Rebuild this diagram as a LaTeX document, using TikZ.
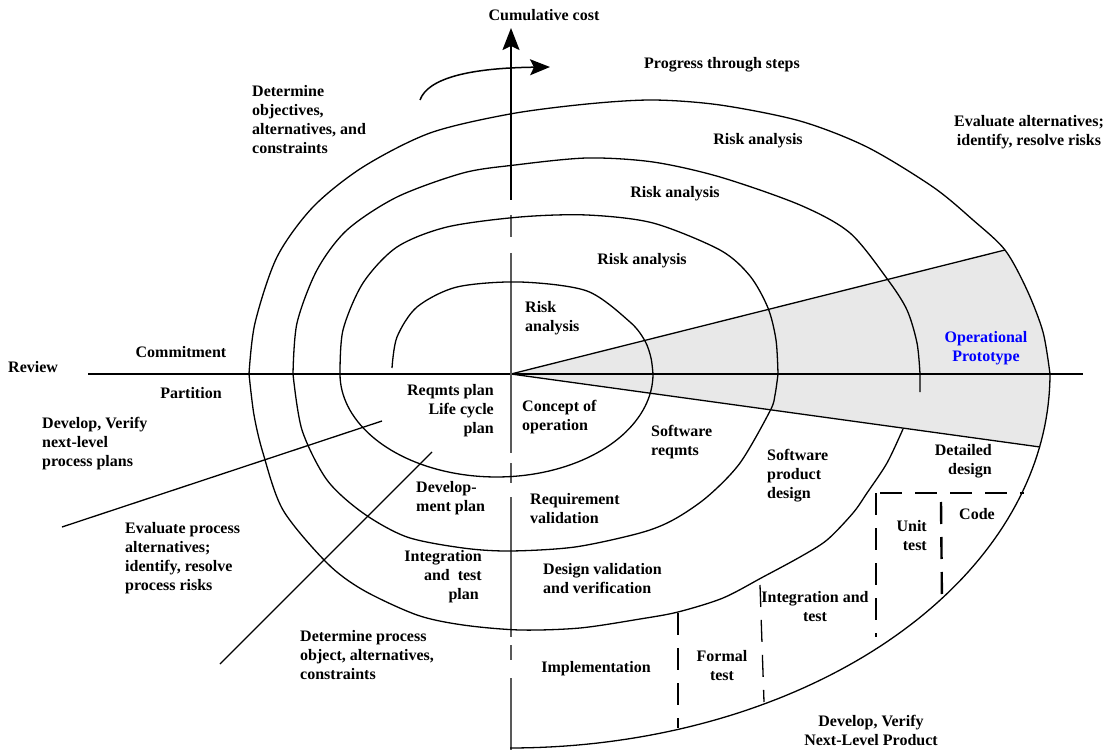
\documentclass[tikz,border=0pt]{standalone}
\usepackage{fontspec}
\setmainfont{Liberation Serif}
\usetikzlibrary{arrows.meta}
\begin{document}
\begin{tikzpicture}[x=1pt,y=-1pt,
  curve/.style={line width=1.3pt, line join=round},
  lbl/.style={font=\fontsize{16}{19}\selectfont\bfseries, inner sep=0pt},
  dsh/.style={line width=1.3pt, dash pattern=on 22pt off 13pt},
  axisgray/.style={line width=2pt, black!65},
  wedgefill/.style={fill=gray!18}
]
\useasboundingbox (0,0) rectangle (1109,754);
% key points
\coordinate (O) at (511,374);
\coordinate (hL) at (88,374);
\coordinate (hR) at (1083,374);
\coordinate (wU) at (1005,250);
\coordinate (wL) at (1040,447);
\coordinate (axT) at (511,28);
\coordinate (axB) at (511,750);
% wedge (operational prototype)
\begin{scope}
\clip (O) -- (1109,223.9) -- (1109,456.5) -- cycle;
\fill[wedgefill] plot[smooth] coordinates {(249,374) (255,323) (277,257) (313,207) (363,167) (430,133) (510,114) (587,104) (653,100) (720,105) (800,121) (867,147) (933,187) (973,220) (1005,250) (1027,290) (1043,332) (1050,374)}
  -- plot[domain=0:90,samples=60] ({510+540*cos(\x)},{374+374*sin(\x)}) -- cycle;
\end{scope}
\draw[curve] (O) -- (wU);
\draw[curve] (O) -- (wL);
% horizontal axis
\draw[line width=1.5pt] (hL) -- (hR);
% vertical axis
\draw[axisgray] (511,215) -- (511,237) (511,253) -- (511,453) (511,463) -- (511,483)
  (511,497) -- (511,637) (511,645) -- (511,660) (511,678) -- (axB);
\draw[line width=2pt, -{Stealth[length=22pt,width=17pt,inset=4pt]}] (511,200) -- (axT);
% spiral - upper arcs
\draw[curve] plot[smooth] coordinates {(249,374) (255,323) (277,257) (313,207) (363,167) (430,133) (510,114) (587,104) (653,100) (720,105) (800,121) (867,147) (933,187) (973,220) (1005,250) (1027,290) (1043,332) (1050,374)};
\draw[curve] plot[smooth] coordinates {(293,374) (297,323) (317,270) (347,230) (397,197) (463,173) (515,165) (587,158) (653,162) (720,177) (800,205) (850,233) (888,280) (907,310) (917,343) (920,374)} -- (920,392);
\draw[curve] plot[smooth] coordinates {(340,374) (343,330) (363,283) (397,247) (447,227) (520,217) (587,215) (653,223) (720,250) (750,276) (768,308) (776,340) (778,374)};
\draw[curve] plot[smooth] coordinates {(392,368) (397,337) (417,307) (457,287) (520,282) (587,291) (630,322) (645,341) (651,358) (653,374)};
% spiral - lower arcs
\draw[curve] plot[domain=0:180,samples=80] ({496.5+156.5*cos(\x)},{374+103*sin(\x)});
\draw[curve] plot[smooth] coordinates {(778,374) (775,395) (770,411) (740,463) (707,497) (673,520) (640,533) (575,547) (510,551) (463,548) (407,537) (363,513) (327,480) (302,430) (293,374)};
\draw[curve] plot[smooth] coordinates {(903,429) (887,463) (867,493) (853,513) (827,540) (800,557) (763,577) (723,598) (678,612) (640,619) (580,628) (520,630) (463,625) (417,615) (363,590) (327,563) (283,510) (263,453) (254,415) (249,374)};
\draw[curve] plot[domain=0:90,samples=80] ({510+540*cos(\x)},{374+374*sin(\x)});
% progress arrow
\draw[line width=1.5pt, -{Stealth[length=20pt,width=16pt,inset=4pt]}] (420,100) .. controls (428,78) and (470,68) .. (550,67);
% process diagonals
\draw[line width=1.3pt] (62,527) -- (382,421);
\draw[line width=1.3pt] (220,664) -- (432,452);
% dashed partitions
\draw[dsh] (678,613) -- (678,728);
\draw[dsh] (760,585) -- (764,702);
\draw[dsh] (876,493) -- (876,637);
\draw[dsh] (880,493) -- (1024,493);
\draw[dsh, line width=2.4pt] (941,502) -- (942,604);
% labels
\node[lbl] (cost) at (544,15) {Cumulative cost};
\node[lbl] (progress) at (722,65) {Progress through steps};
\node[lbl, anchor=west, align=left] (detobj) at (252,120) {Determine\\objectives,\\alternatives, and\\constraints};
\node[lbl, align=center] (evalalt) at (1029,132) {Evaluate alternatives;\\identify, resolve risks};
\node[lbl] (risk1) at (758,141) {Risk analysis};
\node[lbl] (risk2) at (675,194) {Risk analysis};
\node[lbl] (risk3) at (642,261) {Risk analysis};
\node[lbl, anchor=west, align=left] (risk4) at (525,318) {Risk\\analysis};
\node[lbl, align=center, text=blue] (oper) at (986,348) {Operational\\Prototype};
\node[lbl, anchor=west] (review) at (8,367) {Review};
\node[lbl] (commit) at (181,352) {Commitment};
\node[lbl] (partition) at (191,393) {Partition};
\node[lbl, anchor=west, align=left] (devplans) at (42,444) {Develop, Verify\\next-level\\process plans};
\node[lbl, anchor=east, align=right] (reqmts) at (494,411) {Reqmts plan\\Life cycle\\plan};
\node[lbl, anchor=west, align=left] (concept) at (522,417) {Concept of\\operation};
\node[lbl, anchor=west, align=left] (swreq) at (651,442) {Software\\reqmts};
\node[lbl, anchor=west, align=left] (swprod) at (767,476) {Software\\product\\design};
\node[lbl, anchor=east, align=right] (detailed) at (992,461) {Detailed\\design};
\node[lbl, anchor=west, align=left] (devplan) at (416,498) {Develop-\\ment plan};
\node[lbl, anchor=west, align=left] (reqval) at (530,509) {Requirement\\validation};
\node[lbl, anchor=east, align=right] (intplan) at (482,577) {Integration\\and\ \ test\hspace*{7pt}\\plan\hspace*{3pt}};
\node[lbl, anchor=west, align=left] (desval) at (543,579) {Design validation\\and verification};
\node[lbl, anchor=west, align=left] (detproc) at (300,655) {Determine process\\object, alternatives,\\constraints};
\node[lbl, anchor=west, align=left] (evalproc) at (125,558) {Evaluate process\\alternatives;\\identify, resolve\\process risks};
\node[lbl] (impl) at (596,669) {Implementation};
\node[lbl, align=center] (formal) at (722,666) {Formal\\test};
\node[lbl, align=center] (inttest) at (815,607) {Integration and\\test};
\node[lbl, anchor=east, align=right] (unit) at (927,536) {Unit\\test};
\node[lbl] (code) at (977,514) {Code};
\node[lbl, align=center] (devprod) at (871,730) {Develop, Verify\\Next-Level Product};
\end{tikzpicture}
\end{document}
